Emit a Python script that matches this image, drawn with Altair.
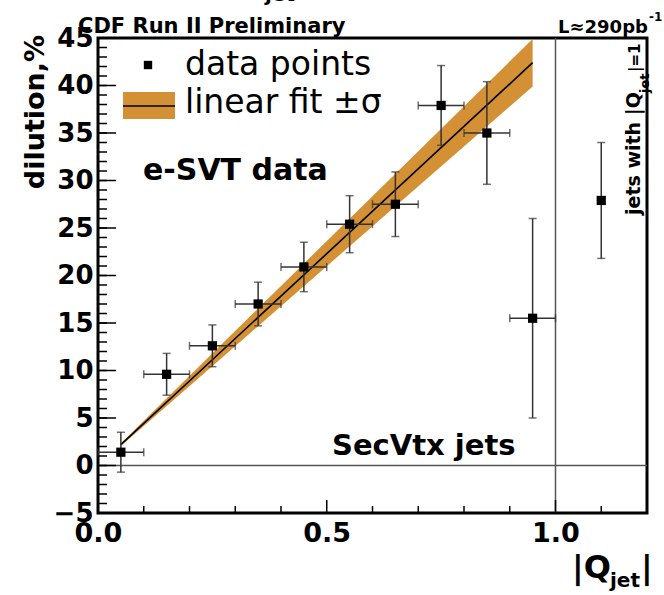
import altair as alt
import pandas as pd
import numpy as np

# ---- data ----
q_center = [0.05, 0.15, 0.25, 0.35, 0.45, 0.55, 0.65, 0.75, 0.85, 0.95, 1.10]
dilution = [1.4, 9.6, 12.6, 17.0, 20.9, 25.4, 27.5, 37.9, 35.0, 15.5, 27.9]
dil_err = [2.1, 2.2, 2.2, 2.3, 2.6, 3.0, 3.4, 4.2, 5.4, 10.5, 6.1]
q_halfwidth = [0.05, 0.05, 0.05, 0.05, 0.05, 0.05, 0.05, 0.05, 0.05, 0.05, 0.0]

fit_x = [0.05, 0.95]
fit_y = [2.2, 42.4]
fit_lo = [2.05, 39.9]
fit_hi = [2.35, 44.9]

y_ticks_major = [-5, 0, 5, 10, 15, 20, 25, 30, 35, 40, 45]
y_ticks_minor = list(range(-5, 46))
x_ticks_major = [0.0, 0.5, 1.0]
x_ticks_minor = [0.1, 0.2, 0.3, 0.4, 0.6, 0.7, 0.8, 0.9, 1.1]

W, H = 549, 475
FONT = "DejaVu Sans"

pts = pd.DataFrame({"x": q_center, "y": dilution, "e": dil_err, "w": q_halfwidth})
pts["lo"] = pts.y - pts.e
pts["hi"] = pts.y + pts.e
pts["xl"] = pts.x - pts.w
pts["xh"] = pts.x + pts.w
xpts = pts[pts.w > 0]

fit = pd.DataFrame({"x": fit_x, "y": fit_y, "lo": fit_lo, "hi": fit_hi})

xscale = alt.Scale(domain=[0, 1.2], nice=False, zero=False)
yscale = alt.Scale(domain=[-5, 45], nice=False, zero=False)
xaxis = alt.Axis(values=x_ticks_major, format=".1f", ticks=False, domain=False, grid=False,
                 labelFont=FONT, labelFontWeight="bold", labelFontSize=27, labelColor="black",
                 labelPadding=7, labelFlush=False, labelOverlap=False, title=None)
yaxis = alt.Axis(values=y_ticks_major, ticks=False, domain=False, grid=False,
                 labelFont=FONT, labelFontWeight="bold", labelFontSize=26, labelColor="black",
                 labelPadding=5, labelFlush=False, labelOverlap=False, title=None)


def X(f):
    return alt.X(f"{f}:Q", scale=xscale, axis=xaxis)


def Y(f):
    return alt.Y(f"{f}:Q", scale=yscale, axis=yaxis)


one = pd.DataFrame({"a": [0]})

band = alt.Chart(fit).mark_area(color="#d39035", opacity=1).encode(x=X("x"), y=Y("lo"), y2="hi")
line = alt.Chart(fit).mark_line(color="black", strokeWidth=1.6).encode(x=X("x"), y=Y("y"))

ref_h = alt.Chart(pd.DataFrame({"y": [0]})).mark_rule(color="#555555", strokeWidth=1.5).encode(y=Y("y"))
ref_v = alt.Chart(pd.DataFrame({"x": [1.0]})).mark_rule(color="#555555", strokeWidth=1.5).encode(x=X("x"))

ytmin = alt.Chart(pd.DataFrame({"t": y_ticks_minor})).mark_rule(color="black", strokeWidth=1.5).encode(
    y=Y("t"), x=alt.value(0), x2=alt.value(9))
ytmaj = alt.Chart(pd.DataFrame({"t": y_ticks_major})).mark_rule(color="black", strokeWidth=1.5).encode(
    y=Y("t"), x=alt.value(0), x2=alt.value(18))
xtmin = alt.Chart(pd.DataFrame({"t": x_ticks_minor})).mark_rule(color="black", strokeWidth=1.5).encode(
    x=X("t"), y=alt.value(H), y2=alt.value(H - 7))
xtmaj = alt.Chart(pd.DataFrame({"t": x_ticks_major})).mark_rule(color="black", strokeWidth=1.5).encode(
    x=X("t"), y=alt.value(H), y2=alt.value(H - 13))

ebar_y = alt.Chart(pts).mark_rule(color="#333333", strokeWidth=1.5).encode(x=X("x"), y=Y("lo"), y2="hi")
ebar_x = alt.Chart(xpts).mark_rule(color="#333333", strokeWidth=1.5).encode(y=Y("y"), x=X("xl"), x2="xh")
cap_lo = alt.Chart(pts).mark_tick(color="#333333", orient="horizontal", size=8, thickness=1.5).encode(x=X("x"), y=Y("lo"))
cap_hi = alt.Chart(pts).mark_tick(color="#333333", orient="horizontal", size=8, thickness=1.5).encode(x=X("x"), y=Y("hi"))
cap_l = alt.Chart(xpts).mark_tick(color="#333333", orient="vertical", size=8, thickness=1.5).encode(x=X("xl"), y=Y("y"))
cap_r = alt.Chart(xpts).mark_tick(color="#333333", orient="vertical", size=8, thickness=1.5).encode(x=X("xh"), y=Y("y"))
points = alt.Chart(pts).mark_square(color="black", size=85, opacity=1).encode(x=X("x"), y=Y("y"))


def txt(s, x, y, size, bold=True, angle=0, align="left", baseline="alphabetic"):
    kw = dict(text=s, font=FONT, fontSize=size, fontWeight="bold" if bold else "normal",
              color="black", align=align, baseline=baseline)
    if angle:
        kw["angle"] = angle
    return alt.Chart(one).mark_text(**kw).encode(x=alt.value(x), y=alt.value(y))


# legend
leg_marker = alt.Chart(one).mark_square(color="black", size=70, opacity=1).encode(x=alt.value(50), y=alt.value(27))
leg_box = alt.Chart(one).mark_rect(color="#d39035").encode(
    x=alt.value(25), x2=alt.value(77), y=alt.value(54), y2=alt.value(81))
leg_line = alt.Chart(one).mark_rule(color="black", strokeWidth=1.6).encode(
    x=alt.value(25), x2=alt.value(77), y=alt.value(68))

texts = [
    txt("CDF Run II Preliminary", -20, -5, 21),
    txt("jet", 167, -37, 20),
    txt("L≈290pb", 460, -5, 18),
    txt("-1", 551, -17, 12),
    txt("data points", 87, 37, 33, bold=False),
    txt("linear fit ±σ", 87, 75, 33, bold=False),
    txt("e-SVT data", 45, 142, 30),
    txt("SecVtx jets", 234, 417, 29),
    txt("dilution,%", -54, 74, 27, angle=270, align="center"),
    txt("|Q", 474, 540, 32),
    txt("jet", 512, 549, 20),
    txt("|", 543, 540, 32),
    txt("jets with |Q", 542, 177, 19, angle=270),
    txt("jet", 551, 55, 13, angle=270),
    txt("|=1", 542, 34, 15, angle=270),
]

chart = alt.layer(
    band, line, ref_h, ref_v, ytmin, ytmaj, xtmin, xtmaj,
    ebar_y, ebar_x, cap_lo, cap_hi, cap_l, cap_r, points,
    leg_box, leg_line, leg_marker, *texts
).properties(
    width=W, height=H,
    autosize=alt.AutoSizeParams(type="none"),
    padding={"left": 98, "top": 38, "right": 17, "bottom": 82},
    background="white",
).configure_view(stroke="black", strokeWidth=3)

chart.save("out.html", embed_options={"renderer": "svg", "actions": False})
